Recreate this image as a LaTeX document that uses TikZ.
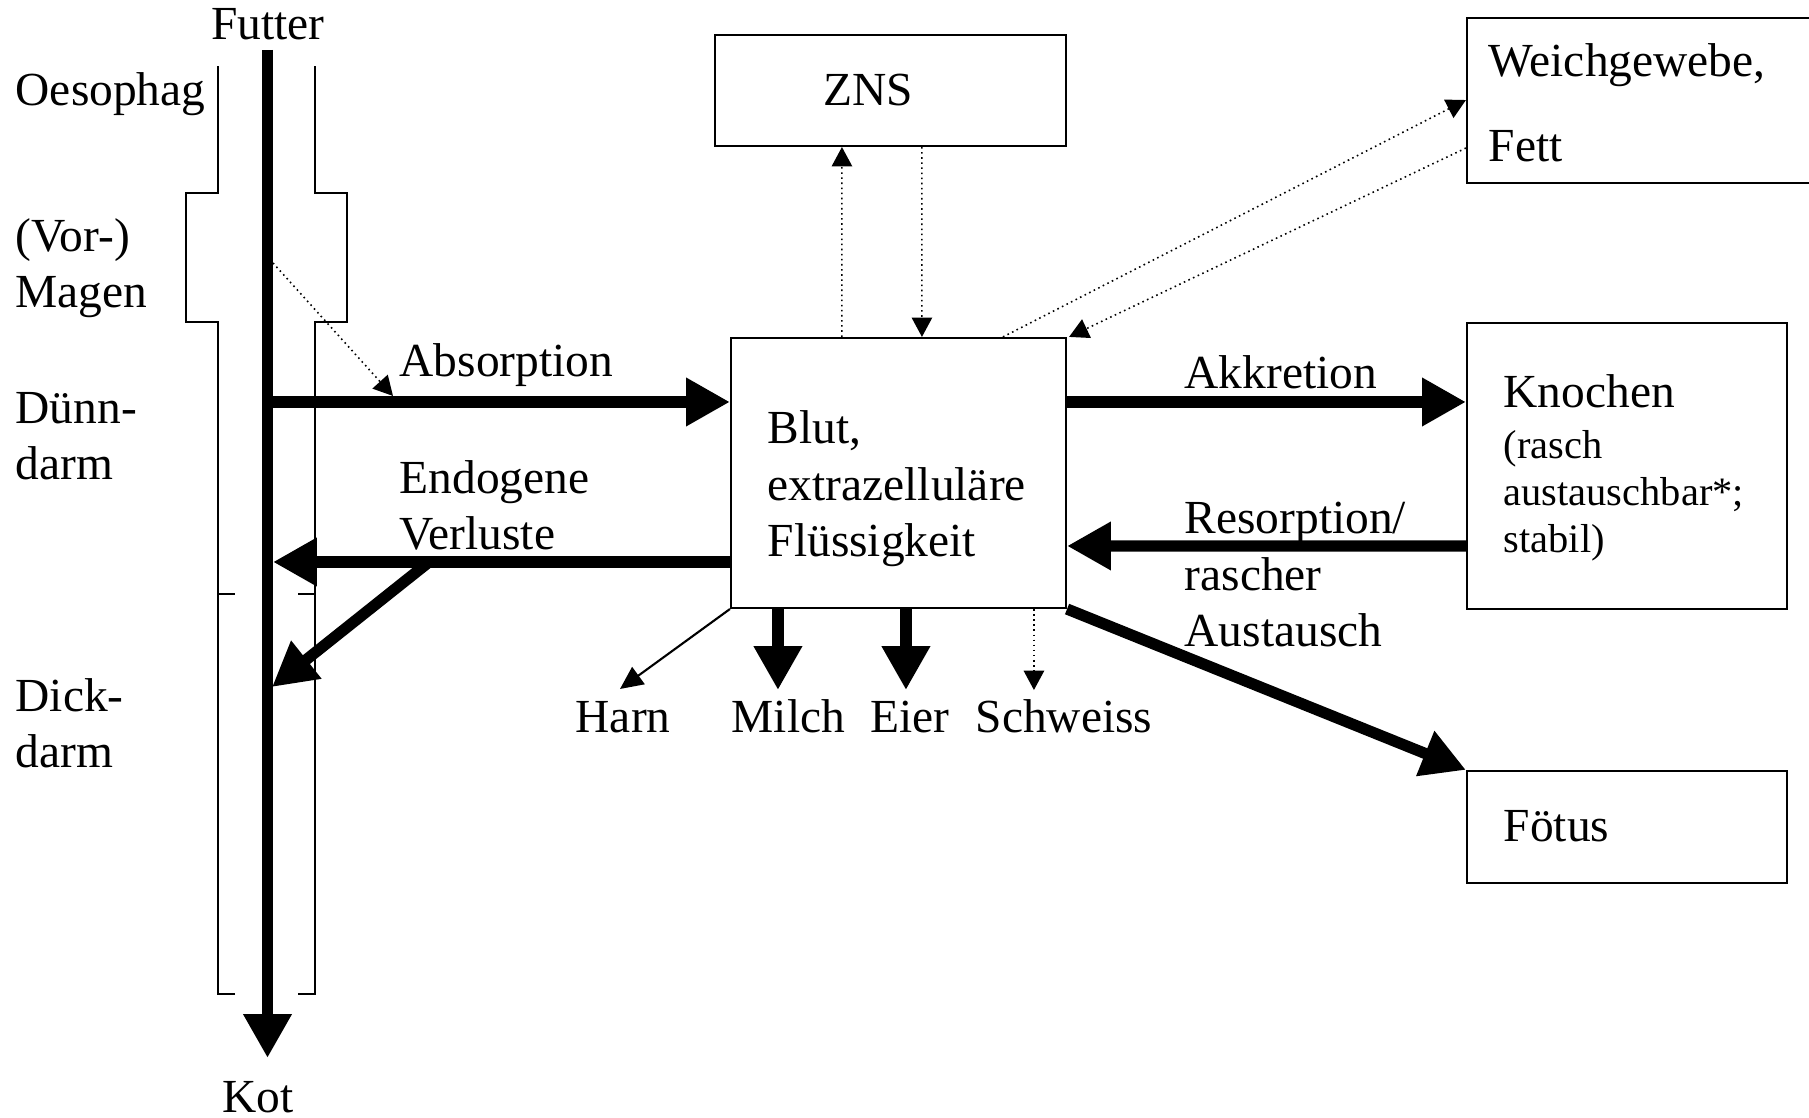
\documentclass[tikz,border=0pt]{standalone}
\usepackage{fontspec}
\setmainfont{Liberation Serif}
\usetikzlibrary{arrows.meta}

\begin{document}
\begin{tikzpicture}[
        font=\fontsize{13.5}{16.2}\selectfont,
        lbl/.style={anchor=base west, inner sep=0pt, align=left},
        box/.style={draw, line width=0.6pt, inner sep=0pt},
        flow/.style={line width=3.2pt, -{Triangle[length=12.5pt,width=13pt]}},
        drain/.style={line width=0.6pt, -{Triangle[length=6.5pt,width=6pt]}},
        signal/.style={line width=0.45pt, densely dotted, -{Triangle[length=5.5pt,width=5.8pt]}},
        wall/.style={line width=0.55pt}
    ]
        \useasboundingbox (0, 0) rectangle (18.09, 11.18);

        % gut wall
        \draw[wall] (2.35, 1.24) -- (2.18, 1.24) -- (2.18, 7.96) -- (1.86, 7.96) -- (1.86, 9.25) -- (2.18, 9.25) -- (2.18, 10.52);
        \draw[wall] (2.98, 1.24) -- (3.15, 1.24) -- (3.15, 7.96) -- (3.47, 7.96) -- (3.47, 9.25) -- (3.15, 9.25) -- (3.15, 10.52);
        \draw[wall] (2.18, 5.24) -- (2.35, 5.24);
        \draw[wall] (2.98, 5.24) -- (3.15, 5.24);

        % multi-line labels sit on the baseline of their last line
        \node[anchor=base, inner sep=0pt] (futter) at (2.68, 10.78) {Futter};
        \node[anchor=base, inner sep=0pt] (kot) at (2.58, 0.05) {Kot};
        \node[lbl] (oeso) at (0.15, 10.12) {Oesophag};
        \node[lbl] (magen) at (0.15, 8.10) {(Vor-)\\Magen};
        \node[lbl] (duenn) at (0.15, 6.38) {Dünn-\\darm};
        \node[lbl] (dick) at (0.15, 3.50) {Dick-\\darm};

        \node[box, minimum width=3.51cm, minimum height=1.11cm] (zns) at (8.905, 10.275) {};
        \node[lbl] (znslbl) at (8.23, 10.12) {ZNS};
        \node[box, minimum width=3.35cm, minimum height=2.70cm] (blut) at (8.985, 6.45) {};
        \node[lbl] (blutlbl) at (7.67, 5.61) {Blut,\\extrazelluläre\\Flüssigkeit};
        \node[box, minimum width=3.45cm, minimum height=1.65cm] (weich) at (16.395, 10.175) {};
        \node[lbl, font=\fontsize{13.5}{24.2}\selectfont] (weichlbl) at (14.88, 9.56) {Weichgewebe,\\Fett};
        \node[box, minimum width=3.20cm, minimum height=2.86cm] (knochen) at (16.27, 6.52) {};
        \node[lbl] (knochenlbl) at (15.03, 7.10) {Knochen};
        \node[lbl, font=\fontsize{11.5}{13.4}\selectfont] (knochenart) at (15.03, 5.65) {(rasch\\austauschbar*;\\stabil)};
        \node[box, minimum width=3.20cm, minimum height=1.12cm] (foetus) at (16.27, 2.91) {};
        \node[lbl] (foetuslbl) at (15.03, 2.76) {Fötus};

        \node[lbl] (absorption) at (3.99, 7.41) {Absorption};
        \node[lbl] (endogen) at (3.99, 5.68) {Endogene\\Verluste};
        \node[lbl] (akkretion) at (11.84, 7.29) {Akkretion};
        \node[lbl] (resorption) at (11.84, 4.71) {Resorption/\\rascher\\Austausch};
        \node[lbl] (harn) at (5.75, 3.85) {Harn};
        \node[lbl] (milch) at (7.31, 3.85) {Milch};
        \node[lbl] (eier) at (8.70, 3.85) {Eier};
        \node[lbl] (schweiss) at (9.75, 3.85) {Schweiss};

        \coordinate (gutin) at (2.675, 10.68);
        \coordinate (gutout) at (2.675, 0.60);
        \coordinate (absorb) at (2.675, 7.16);
        \coordinate (endo) at (2.73, 5.56);
        \coordinate (split) at (4.29, 5.56);
        \coordinate (dickin) at (2.72, 4.31);
        \coordinate (vormagen) at (2.73, 8.55);
        \coordinate (absorbtop) at (3.93, 7.22);
        \coordinate (harnin) at (6.20, 4.29);

        \draw[flow] (gutin) -- (gutout);
        \draw[flow] (absorb) -- (absorb -| blut.west);
        \draw[flow] (endo -| blut.west) -- (endo);
        \draw[flow] (split) -- (dickin);
        \draw[signal] (vormagen) -- (absorbtop);

        \draw[signal] ([xshift=1.12cm]blut.north west) -- ([xshift=1.28cm]zns.south west);
        \draw[signal] ([xshift=2.08cm]zns.south west) -- ([xshift=1.92cm]blut.north west);
        \draw[signal] ([xshift=2.73cm]blut.north west) -- ([yshift=0.84cm]weich.south west);
        \draw[signal] ([yshift=0.36cm]weich.south west) -- ([xshift=0.02cm]blut.north east);

        \draw[flow] ([yshift=0.71cm]blut.east) -- ([yshift=0.64cm]knochen.west);
        \draw[flow] ([yshift=-0.80cm]knochen.west) -- ([yshift=-0.73cm]blut.east);
        \draw[flow] (blut.south east) -- (foetus.north west);

        \draw[drain] (blut.south west) -- (harnin);
        \draw[flow] ([xshift=0.48cm]blut.south west) -- ++(0, -0.81);
        \draw[flow] ([xshift=1.76cm]blut.south west) -- ++(0, -0.81);
        \draw[signal] ([xshift=3.04cm]blut.south west) -- ++(0, -0.81);
    \end{tikzpicture}
\end{document}
